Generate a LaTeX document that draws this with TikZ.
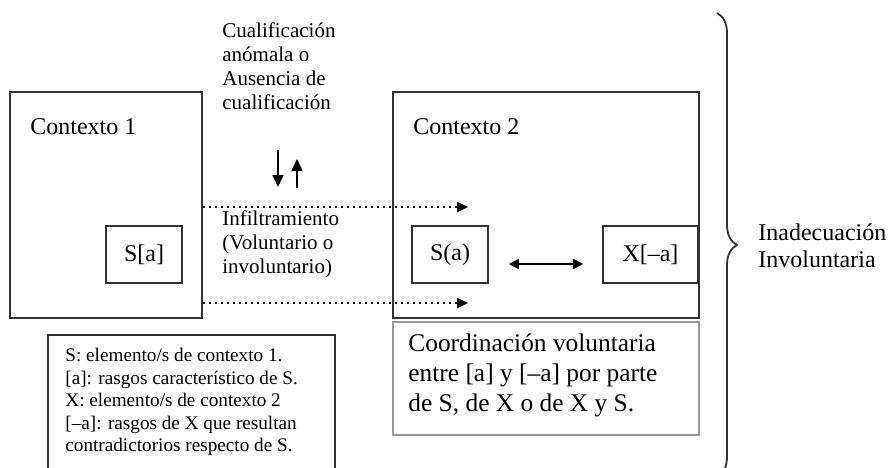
\documentclass[tikz,border=0pt]{standalone}
\usepackage{fontspec}
\setmainfont{Liberation Serif}
\usetikzlibrary{arrows.meta,fit,positioning,decorations.pathreplacing}

\begin{document}
\begin{tikzpicture}[x=0.5pt,y=-0.5pt]

\tikzset{
box/.style={draw=black!80,line width=0.8pt,inner sep=0pt},
faintbox/.style={draw=black!40,line width=0.6pt,inner sep=0pt},
boxtext/.style={label={[font=\fontsize{12}{14}\selectfont]center:#1}},
lab/.style={anchor=west,inner sep=0pt,align=left},
infl/.style={-{Triangle[length=5.5pt,width=5pt]},line width=1.2pt,dash pattern=on 1.1pt off 1.9pt},
qual/.style={-{Triangle[length=6pt,width=5.5pt]},line width=0.8pt},
dbl/.style={{Triangle[length=5pt,width=5pt]}-{Triangle[length=5pt,width=5pt]},line width=0.9pt}
}

\useasboundingbox (0,0) rectangle (895,467);
\clip (0,0) rectangle (895,467);

% Boxes
\node[box, fit={(10,92) (202,318)}] (ctx1) {};
\node[box, fit={(393,92) (699,318)}] (ctx2) {};
\node[box, fit={(106,226) (182,283)}, boxtext={S[a]}] (sa1) {};
\node[box, fit={(412,226) (488,283)}, boxtext={S(a)}] (sa2) {};
\node[box, fit={(603,226) (698,283)}, boxtext={X[–a]}] (xa) {};
\node[faintbox, fit={(393,322) (699,435)}] (coord) {};
\node[box, fit={(48,335) (335,480)}] (legend) {};

% Arrows
\coordinate (inf1) at (468,207);
\coordinate (inf2) at (468,303);
\draw[infl] (ctx1.east |- inf1) -- (inf1);
\draw[infl] (ctx1.east |- inf2) -- (inf2);

\coordinate (dn1) at (278,150);
\coordinate (dn2) at (278,187);
\coordinate (up1) at (297,188);
\coordinate (up2) at (297,159);
\draw[qual] (dn1) -- (dn2);
\draw[qual] (up1) -- (up2);

\draw[dbl,shorten <=10pt,shorten >=9.5pt] ([yshift=-4.75pt]sa2.east) -- ([yshift=-4.75pt]xa.west);

% Brace
\coordinate (brtop) at (717,13);
\coordinate (brbot) at (717,477);
\draw[decorate,decoration={brace,amplitude=10pt},line width=0.9pt,black!80] (brtop) -- (brbot);

% Labels
\node[lab, font=\fontsize{12}{14}\selectfont] (ctx1lab) at (30,127) {Contexto 1};
\node[lab, font=\fontsize{12}{14}\selectfont] (ctx2lab) at (413,127) {Contexto 2};
\node[lab, font=\fontsize{10.5}{12}\selectfont] (quallab) at (222,66) {Cualificación\\anómala o\\Ausencia de\\cualificación};
\node[lab, font=\fontsize{10.5}{12}\selectfont] (infllab) at (222,244) {Infiltramiento\\(Voluntario o\\involuntario)};
\node[lab, font=\fontsize{12.7}{15}\selectfont] (coordlab) at (408,375) {Coordinación voluntaria\\entre [a] y [–a] por parte\\de S, de X o de X y S.};
\node[lab, font=\fontsize{9.6}{11.25}\selectfont] (leglab) at (65,402) {S: elemento/s de contexto 1.\\{[a]}: rasgos característico de S.\\X: elemento/s de contexto 2\\{[–a]}: rasgos de X que resultan\\contradictorios respecto de S.};
\node[lab, font=\fontsize{12}{13.5}\selectfont] (inadlab) at (758,246) {Inadecuación\\Involuntaria};

\end{tikzpicture}
\end{document}
